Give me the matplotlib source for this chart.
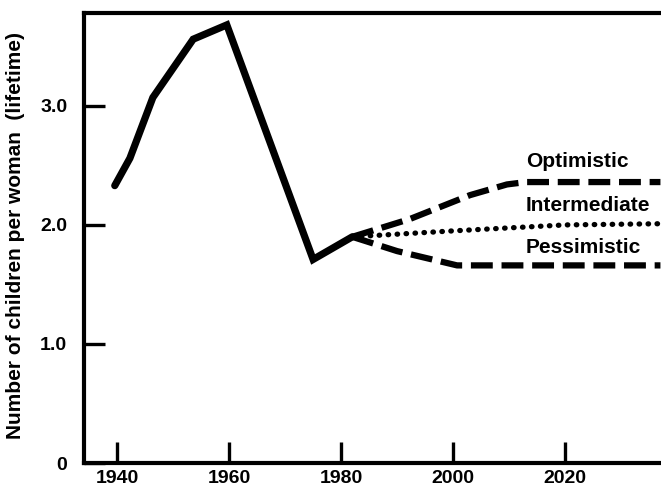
import numpy as np
import matplotlib
matplotlib.use("Agg")
import matplotlib.pyplot as plt

plt.rcParams['font.family'] = ['Liberation Sans', 'DejaVu Sans']
plt.rcParams['font.weight'] = 'bold'

# historical series
hist_years = [1939.6, 1942.3, 1946.4, 1953.6, 1959.6, 1975.0, 1982.0]
hist_vals = [2.33, 2.56, 3.07, 3.56, 3.68, 1.71, 1.90]

# projections
opt_years = [1982, 1992.3, 2003, 2009.6, 2013, 2037]
opt_vals = [1.90, 2.05, 2.25, 2.34, 2.36, 2.36]
mid_years = [1982, 2000, 2020, 2037]
mid_vals = [1.90, 1.95, 2.00, 2.01]
pes_years = [1982, 1990, 2000.7, 2037]
pes_vals = [1.90, 1.78, 1.66, 1.66]

xticks = [1940, 1960, 1980, 2000, 2020]
yticks = [0, 1.0, 2.0, 3.0]
ytick_labels = ['0', '1.0', '2.0', '3.0']

fig = plt.figure(figsize=(6.61, 4.91), dpi=100)
ax = fig.add_axes([0.127, 0.057, 0.873, 0.9165])

ax.plot(hist_years, hist_vals, color='black', lw=5.2, solid_joinstyle='miter',
        solid_capstyle='round')
ax.plot(opt_years, opt_vals, color='black', lw=4.5, dashes=(3.5, 1.4))
ax.plot(mid_years, mid_vals, color='black', lw=3.8, linestyle=(0, (0.1, 1.6)),
        dash_capstyle='round')
ax.plot(pes_years, pes_vals, color='black', lw=4.5, dashes=(3.5, 1.4))

ax.set_xlim(1934.1, 2037.1)
ax.set_ylim(0.03, 3.78)

ax.text(2013.0, 2.53, 'Optimistic', fontsize=15, fontweight='bold', va='center')
ax.text(2013.0, 2.16, 'Intermediate', fontsize=15, fontweight='bold', va='center')
ax.text(2013.0, 1.81, 'Pessimistic', fontsize=15, fontweight='bold', va='center')

ax.set_xticks(xticks)
ax.set_yticks(yticks)
ax.set_yticklabels(ytick_labels)
ax.tick_params(axis='both', direction='in', length=15, width=2.4,
               labelsize=14, pad=5)
ax.tick_params(axis='y', pad=12)

for side in ['left', 'bottom', 'top']:
    ax.spines[side].set_linewidth(3)
ax.spines['right'].set_visible(False)

fig.text(0.024, 0.52, 'Number of children per woman  (lifetime)', rotation=90,
         fontsize=15, fontweight='bold', va='center', ha='center')

fig.savefig('out.png', dpi=100)
